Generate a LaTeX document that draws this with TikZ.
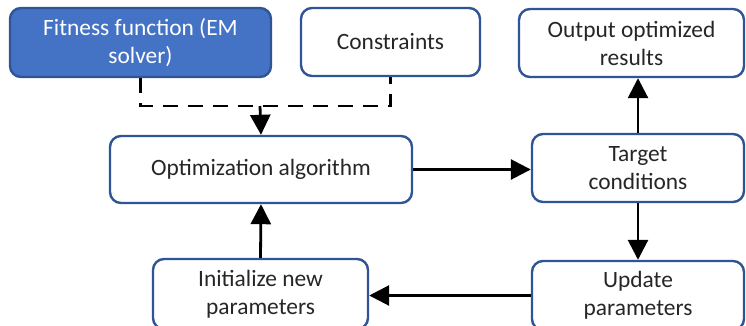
\documentclass[tikz,border=0pt]{standalone}
\usepackage{fontspec}
\setmainfont{Carlito}
\usetikzlibrary{arrows.meta,calc}
\definecolor{bord}{HTML}{2F5597}
\definecolor{fitfill}{HTML}{4472C4}
\begin{document}
\begin{tikzpicture}[x=1pt,y=-1pt,
  box/.style={draw=bord,line width=2.4pt,rounded corners=11pt,fill=white,
    inner sep=0pt,align=center,font=\fontsize{23.4}{28}\selectfont,text=black!85},
  conn/.style={line width=2.8pt,-{Triangle[width=20pt,length=20pt]}},
  dconn/.style={line width=2.8pt,dash pattern=on 15pt off 10pt}]
\clip (0,0) rectangle (746,326);
\useasboundingbox (0,0) rectangle (746,326);
\node[box,fill=fitfill,draw=bord,text=white,minimum width=261pt,minimum height=69pt] (fit) at (140.5,42.5) {Fitness function (EM\\solver)};
\node[box,minimum width=179pt,minimum height=68pt] (cons) at (390.5,42) {Constraints};
\node[box,minimum width=225pt,minimum height=68pt] (out) at (631.5,43) {Output optimized\\results};
\node[box,minimum width=302pt,minimum height=67pt] (opt) at (261,169.5) {Optimization algorithm};
\node[box,minimum width=212pt,minimum height=68pt] (targ) at (638,168) {Target\\conditions};
\node[box,minimum width=215pt,minimum height=70pt] (init) at (260.5,294) {Initialize new\\parameters};
\node[box,minimum width=212pt,minimum height=69pt] (upd) at (638,295.5) {Update\\parameters};
\coordinate (j) at (260,106);
\draw[dconn] (fit.south) -- (fit.south |- j) -- ($(cons.south |- j)$) -- (cons.south);
\draw[conn] (j) -- (opt.north);
\draw[conn] (opt.east) -- (opt.east -| targ.west);
\draw[conn] (targ.north) -- (targ.north |- out.south);
\draw[conn] (targ.south) -- (upd.north);
\draw[conn] (upd.west) -- (upd.west -| init.east);
\draw[conn] (init.north) -- (opt.south);
\end{tikzpicture}
\end{document}
